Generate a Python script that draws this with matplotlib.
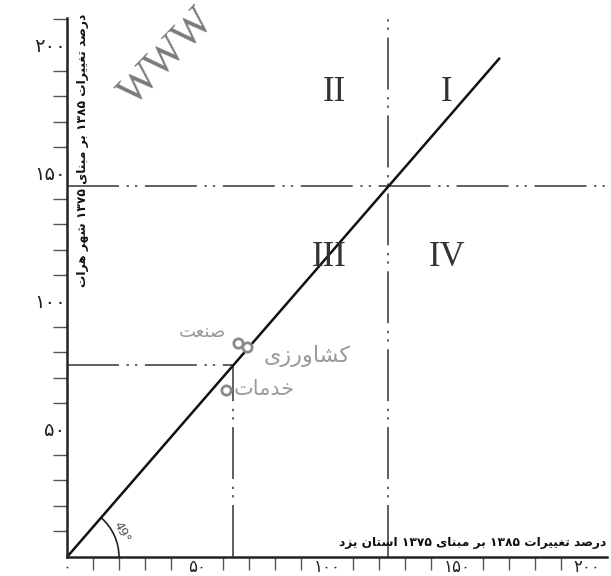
import re
import numpy as np
import matplotlib
matplotlib.use("Agg")
import matplotlib.pyplot as plt
from matplotlib.patches import Arc

# data (x: Yazd province, y: Herat city, % change 1375-1385)
LINE_X = [0, 166.5]
LINE_Y = [0, 195]
UPPER_CROSS = (123.5, 145)
LOWER_CROSS = (64, 75)

SECTOR_NAMES = ["صنعت", "کشاورزی", "خدمات"]
SECTOR_X = [65.9, 69.3, 61.2]
SECTOR_Y = [83.5, 82.1, 65.2]
SECTOR_LABEL_X = [52, 92.5, 76]
SECTOR_LABEL_Y = [88, 78.5, 65.5]

QUADRANTS = ["I", "II", "III", "IV"]
QUAD_X = [146, 103, 101, 146]
QUAD_Y = [181.5, 181.5, 117, 117]

TICK_VALUES = [50, 100, 150, 200]
TICK_LABELS = ["۵۰", "۱۰۰", "۱۵۰", "۲۰۰"]

XLABEL = "درصد تغییرات ۱۳۸۵ بر مبنای ۱۳۷۵ استان یزد"
YLABEL = "درصد تغییرات ۱۳۸۵ بر مبنای ۱۳۷۵ شهر هرات"
ANGLE_LABEL = "49°"

# contextual forms: isolated, final, initial, medial (None = does not join forward)
FORMS = {
    "ا": ("\uFE8D", "\uFE8E", None, None),
    "ب": ("\uFE8F", "\uFE90", "\uFE91", "\uFE92"),
    "ت": ("\uFE95", "\uFE96", "\uFE97", "\uFE98"),
    "خ": ("\uFEA5", "\uFEA6", "\uFEA7", "\uFEA8"),
    "د": ("\uFEA9", "\uFEAA", None, None),
    "ر": ("\uFEAD", "\uFEAE", None, None),
    "ز": ("\uFEAF", "\uFEB0", None, None),
    "س": ("\uFEB1", "\uFEB2", "\uFEB3", "\uFEB4"),
    "ش": ("\uFEB5", "\uFEB6", "\uFEB7", "\uFEB8"),
    "ص": ("\uFEB9", "\uFEBA", "\uFEBB", "\uFEBC"),
    "ع": ("\uFEC9", "\uFECA", "\uFECB", "\uFECC"),
    "غ": ("\uFECD", "\uFECE", "\uFECF", "\uFED0"),
    "م": ("\uFEE1", "\uFEE2", "\uFEE3", "\uFEE4"),
    "ن": ("\uFEE5", "\uFEE6", "\uFEE7", "\uFEE8"),
    "ه": ("\uFEE9", "\uFEEA", "\uFEEB", "\uFEEC"),
    "و": ("\uFEED", "\uFEEE", None, None),
    "ی": ("\uFBFC", "\uFBFD", "\uFBFE", "\uFBFF"),
    "ک": ("\uFB8E", "\uFB8F", "\uFB90", "\uFB91"),
}


def fa(text):
    # shape letters and put them in visual (left to right) order
    out = []
    for i, ch in enumerate(text):
        if ch not in FORMS:
            out.append(ch)
            continue
        iso, fin, ini, med = FORMS[ch]
        prev = text[i - 1] if i > 0 else ""
        nxt = text[i + 1] if i + 1 < len(text) else ""
        join_prev = prev in FORMS and FORMS[prev][2] is not None
        join_next = ini is not None and nxt in FORMS
        if join_prev and join_next:
            out.append(med)
        elif join_prev:
            out.append(fin)
        elif join_next:
            out.append(ini)
        else:
            out.append(iso)
    s = "".join(out)[::-1]
    return re.sub("[۰-۹]+", lambda m: m.group(0)[::-1], s)


plt.rcParams["font.family"] = ["DejaVu Sans"]

W, H = 611, 576
PX_X, PX_Y = 2.6, 2.56  # pixels per unit
X0, Y0 = 67, 557        # origin in pixels (y from top)

fig = plt.figure(figsize=(W / 100, H / 100), dpi=100)
fig.patch.set_facecolor("white")
ax = fig.add_axes([X0 / W, (H - Y0) / H, (W - X0) / W, Y0 / H])
ax.set_xlim(0, (W - X0) / PX_X)
ax.set_ylim(0, Y0 / PX_Y)
ax.set_facecolor("none")

for side in ["top", "right"]:
    ax.spines[side].set_visible(False)
ax.spines["left"].set_bounds(0, 210.5)
ax.spines["bottom"].set_bounds(0, 207.7)
for side in ["left", "bottom"]:
    ax.spines[side].set_linewidth(1.8)
    ax.spines[side].set_color("#222222")

# major ticks carry the labels, minor ticks are the short marks
ax.set_xticks([0] + TICK_VALUES)
ax.set_xticklabels(["۰"] + TICK_LABELS)
ax.set_yticks(TICK_VALUES)
ax.set_yticklabels(TICK_LABELS)
ax.set_xticks([v for v in range(10, 210, 10) if v % 50], minor=True)
ax.set_yticks([v for v in range(10, 220, 10) if v % 50], minor=True)
ax.tick_params(axis="both", which="major", length=0, colors="#222222")
ax.tick_params(axis="x", which="major", pad=0.5, labelsize=12)
ax.tick_params(axis="y", which="major", pad=1, labelsize=14)
ax.tick_params(axis="y", which="minor", length=10, width=1, color="#555555")
ax.tick_params(axis="x", which="minor", length=9, width=1, color="#555555")

dash = (0, (34, 5, 1.5, 4, 1.5, 5))
dash_kw = dict(color="#333333", lw=1.1, linestyle=dash)
ax.plot([0, 220], [UPPER_CROSS[1]] * 2, **dash_kw)
ax.plot([UPPER_CROSS[0]] * 2, [0, 210.5], **dash_kw)
ax.plot([0, LOWER_CROSS[0]], [LOWER_CROSS[1]] * 2, **dash_kw)
ax.plot([LOWER_CROSS[0]] * 2, [0, LOWER_CROSS[1]], **dash_kw)

ax.plot(LINE_X, LINE_Y, color="#111111", lw=1.8, solid_capstyle="butt")

# angle arc at the origin
r = 52
ang = np.degrees(np.arctan2(LINE_Y[1], LINE_X[1]))
ax.add_patch(Arc((0, 0), 2 * r / PX_X, 2 * r / PX_Y, theta1=0, theta2=ang,
                 color="#222222", lw=1.2))
ax.text(21, 9.8, ANGLE_LABEL, rotation=-62, fontsize=9, color="#555555",
        ha="center", va="center")

ax.scatter(SECTOR_X, SECTOR_Y, s=45, facecolors="white", edgecolors="#8a8a8a",
           linewidths=2, zorder=3)
sizes = [13, 16, 15]
for name, x, y, fs in zip(SECTOR_NAMES, SECTOR_LABEL_X, SECTOR_LABEL_Y, sizes):
    ax.text(x, y, fa(name), fontsize=fs, color="#9a9a9a", ha="center", va="center")

for q, x, y in zip(QUADRANTS, QUAD_X, QUAD_Y):
    ax.text(x, y, q, fontsize=25, family="Liberation Serif", color="#333333",
            ha="center", va="center")

ax.text(207.5, 5.8, fa(XLABEL), fontsize=8.8, fontweight="bold", ha="right",
        va="center", color="#111111")
ax.text(5.8, 159, fa(YLABEL), fontsize=8.8, fontweight="bold", rotation=90,
        ha="center", va="center", color="#111111")

# watermark
fig.text(126 / W, (H - 100) / H, "WWW", fontsize=30, family="Liberation Serif",
         color="#7a7a7a", rotation=46, rotation_mode="anchor", ha="left", va="center")

fig.savefig("out.png", dpi=100, facecolor="white")
